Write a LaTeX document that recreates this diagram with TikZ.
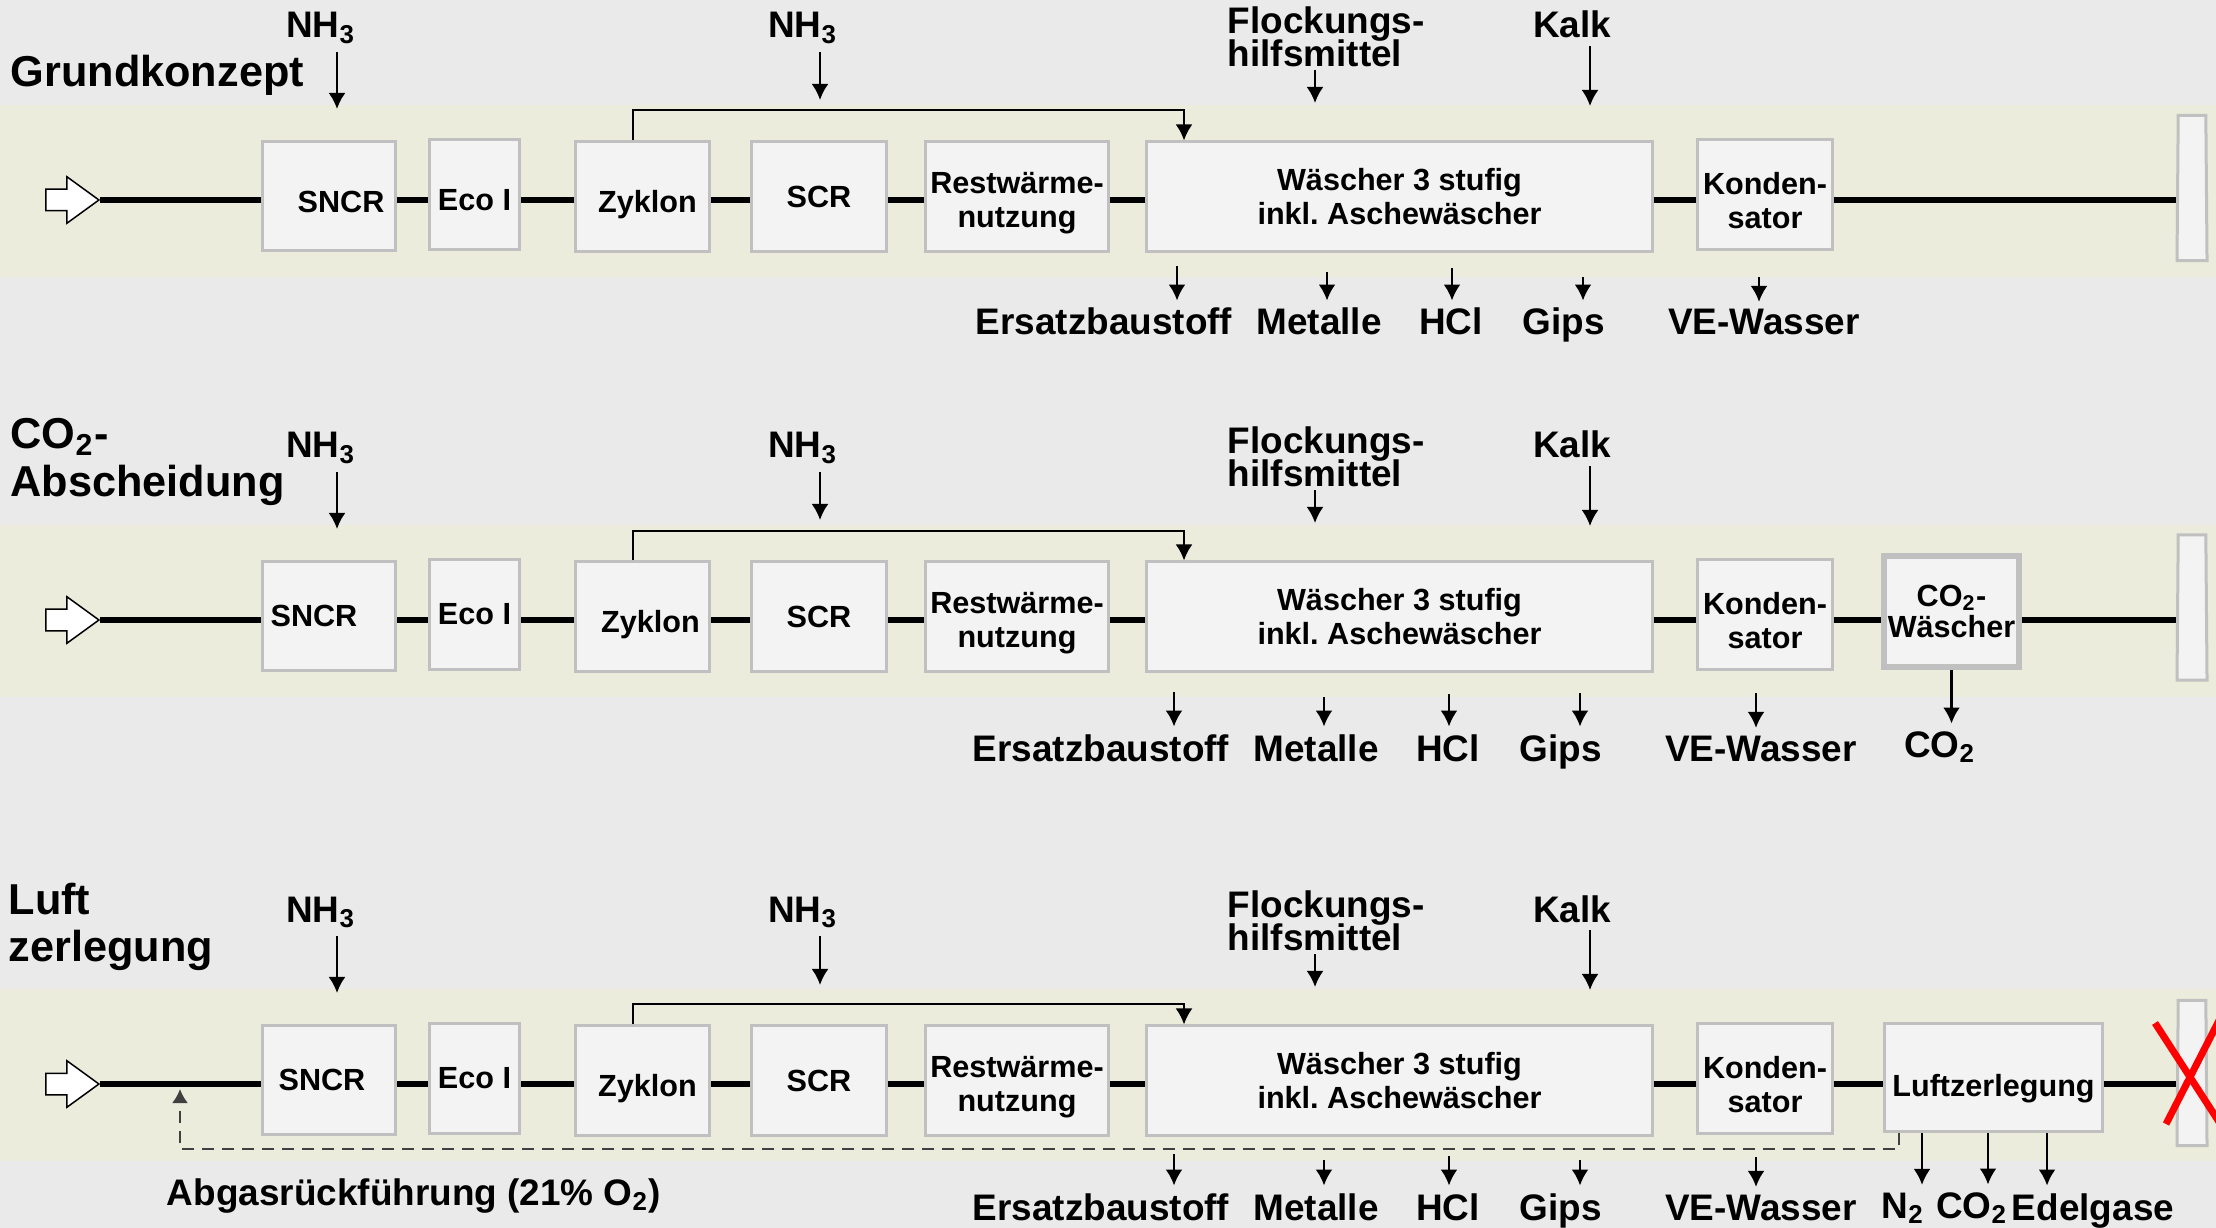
\documentclass[tikz,border=0pt]{standalone}
\usepackage{fontspec}
\setmainfont{Liberation Sans}
\usetikzlibrary{shapes.geometric, shapes.arrows, arrows.meta}
\definecolor{pagegray}{RGB}{234,234,234}
\definecolor{bandbeige}{RGB}{236,236,220}
\definecolor{boxfill}{RGB}{243,243,243}
\definecolor{boxline}{RGB}{192,192,192}
\definecolor{recirc}{RGB}{64,64,64}
\tikzstyle{unit} = [rectangle, draw=boxline, line width=0.3mm, fill=boxfill, minimum height=10.9mm, inner sep=0pt, text centered, align=center, font=\fontsize{8.7}{9.6}\selectfont\bfseries]
\tikzstyle{lowtext} = [text height=3.2mm, text depth=0pt]
\tikzstyle{lowpair} = [text height=6.8mm]
\tikzstyle{stack} = [trapezium, trapezium left angle=87.5, trapezium right angle=87.5, trapezium stretches=true, minimum width=3.0mm, minimum height=14.5mm, draw=boxline, line width=0.3mm, fill=boxfill, inner sep=0.2mm]
\tikzstyle{inlet} = [single arrow, draw, fill=white, line width=0.15mm, minimum height=5.3mm, inner xsep=0pt, inner ysep=1mm, single arrow head extend=1.25mm, single arrow tip angle=72]
\tikzstyle{stream} = [font={\fontsize{10.5}{9.3}\selectfont\bfseries\lineskiplimit-1cm\relax}, inner sep=0.7mm]
\tikzstyle{variant} = [font=\fontsize{12.3}{13.4}\selectfont\bfseries, inner sep=0pt, align=left]
\tikzstyle{flow} = [line width=0.6mm]
\tikzstyle{arrow} = [-{Latex[length=1.6mm,width=1.7mm]}, line width=0.25mm]
\tikzstyle{recycle} = [-{Latex[length=1.4mm,width=1.6mm]}, draw=recirc, line width=0.22mm, dash pattern=on 1.2mm off 0.8mm]
\tikzstyle{nogo} = [draw=red, line width=0.7mm]

\begin{document}
\begin{tikzpicture}[x=0.01cm, y=-0.01cm]
    \useasboundingbox (0,0) rectangle (2216,1228);
    \clip (0,0) rectangle (2216,1228);
    \fill [pagegray] (0,0) rectangle (2216,1228);
    \fill [bandbeige] (0,105) rectangle (2216,277);
    \fill [bandbeige] (0,525) rectangle (2216,697);
    \fill [bandbeige] (0,989) rectangle (2216,1161);

    % Grundkonzept
    \node [variant, anchor=base west] at (10,87) (title1) {Grundkonzept};
    \node [inlet] at (65,200) (in1) {};
    \node [stack] at (2192,188) (st1) {};
    \draw [flow] (in1.east) -- (in1.east -| st1.west);
    \node [unit, lowtext, minimum width=13.3mm] at (329,196) (sncr1) {\hspace*{2.4mm}SNCR};
    \node [unit, lowtext, minimum width=9.0mm] at (474.5,194.5) (eco1) {Eco I};
    \node [unit, lowtext, minimum width=13.4mm] at (642.5,196.5) (zyk1) {\hspace*{1mm}Zyklon};
    \node [unit, minimum width=13.5mm] at (819,196.5) (scr1) {SCR};
    \node [unit, lowpair, minimum width=18.3mm] at (1017,196.5) (rest1) {Restwärme-\\nutzung};
    \node [unit, minimum width=50.6mm] at (1399.5,196.5) (wa1) {Wäscher 3 stufig\\inkl.\ Aschewäscher};
    \node [unit, lowpair, minimum width=13.5mm] at (1765,194.5) (kon1) {Konden-\\sator};
    \node [stream, anchor=base] at (321,38) (nha1) {NH\textsubscript{3}};
    \node [stream, anchor=base] at (803,38) (nhb1) {NH\textsubscript{3}};
    \node [stream, align=left, anchor=north west] at (1220,-1) (fl1) {Flockungs-\\hilfsmittel};
    \node [stream, anchor=base] at (1572,38) (kalk1) {Kalk};
    \coordinate (nha1t) at (337,109);
    \coordinate (nhb1t) at (820,100);
    \coordinate (fl1s) at (1315,70);
    \coordinate (fl1t) at (1315,103);
    \coordinate (kalk1t) at (1590,106);
    \draw [arrow] (nha1.south -| nha1t) -- (nha1t);
    \draw [arrow] (nhb1.south -| nhb1t) -- (nhb1t);
    \draw [arrow] (fl1s) -- (fl1t);
    \draw [arrow] (kalk1.south -| kalk1t) -- (kalk1t);
    \coordinate (byp1) at (633,110);
    \coordinate (byq1) at (1184,110);
    \draw [arrow] (byp1 |- zyk1.north) -- (byp1) -- (byq1) -- (byq1 |- wa1.north);
    \node [stream, anchor=base] at (1104,335) (ers1) {Ersatzbaustoff};
    \node [stream, anchor=base] at (1319,335) (met1) {Metalle};
    \node [stream, anchor=base] at (1451,335) (hcl1) {HCl};
    \node [stream, anchor=base] at (1564,335) (gips1) {Gips};
    \node [stream, anchor=base] at (1764,335) (ve1) {VE-Wasser};
    \coordinate (ers1s) at (1177,266);
    \coordinate (met1s) at (1327,272);
    \coordinate (hcl1s) at (1452,268);
    \coordinate (gips1s) at (1583,277);
    \coordinate (ve1s) at (1759,277);
    \draw [arrow] (ers1s) -- (ers1s |- ers1.north);
    \draw [arrow] (met1s) -- (met1s |- met1.north);
    \draw [arrow] (hcl1s) -- (hcl1s |- hcl1.north);
    \draw [arrow] (gips1s) -- (gips1s |- gips1.north);
    \draw [arrow] (ve1s) -- (ve1s |- ve1.north);

    % CO2-Abscheidung
    \node [variant, anchor=north west] at (10,418) (title2) {CO\textsubscript{2}-\\Abscheidung};
    \node [inlet] at (65,620) (in2) {};
    \node [stack] at (2192,607.5) (st2) {};
    \draw [flow] (in2.east) -- (in2.east -| st2.west);
    \node [unit, minimum width=13.3mm] at (329,616) (sncr2) {SNCR\hspace*{3mm}};
    \node [unit, minimum width=9.0mm] at (474.5,614.5) (eco2) {Eco I};
    \node [unit, lowtext, minimum width=13.4mm] at (642.5,616.5) (zyk2) {\hspace*{1.6mm}Zyklon};
    \node [unit, minimum width=13.5mm] at (819,616.5) (scr2) {SCR};
    \node [unit, lowpair, minimum width=18.3mm] at (1017,616.5) (rest2) {Restwärme-\\nutzung};
    \node [unit, minimum width=50.6mm] at (1399.5,616.5) (wa2) {Wäscher 3 stufig\\inkl.\ Aschewäscher};
    \node [unit, lowpair, minimum width=13.5mm] at (1765,614.5) (kon2) {Konden-\\sator};
    \node [unit, line width=0.6mm, minimum width=13.5mm, minimum height=11.1mm, font=\fontsize{8.7}{8.9}\selectfont\bfseries] at (1951.5,611.5) (co2w2) {CO\textsubscript{2}-\\Wäscher};
    \node [stream, anchor=base] at (321,458) (nha2) {NH\textsubscript{3}};
    \node [stream, anchor=base] at (803,458) (nhb2) {NH\textsubscript{3}};
    \node [stream, align=left, anchor=north west] at (1220,419) (fl2) {Flockungs-\\hilfsmittel};
    \node [stream, anchor=base] at (1572,458) (kalk2) {Kalk};
    \coordinate (nha2t) at (337,529);
    \coordinate (nhb2t) at (820,520);
    \coordinate (fl2s) at (1315,490);
    \coordinate (fl2t) at (1315,523);
    \coordinate (kalk2t) at (1590,526);
    \draw [arrow] (nha2.south -| nha2t) -- (nha2t);
    \draw [arrow] (nhb2.south -| nhb2t) -- (nhb2t);
    \draw [arrow] (fl2s) -- (fl2t);
    \draw [arrow] (kalk2.south -| kalk2t) -- (kalk2t);
    \coordinate (byp2) at (633,531);
    \coordinate (byq2) at (1184,531);
    \draw [arrow] (byp2 |- zyk2.north) -- (byp2) -- (byq2) -- (byq2 |- wa2.north);
    \node [stream, anchor=base] at (1101,761) (ers2) {Ersatzbaustoff};
    \node [stream, anchor=base] at (1316,761) (met2) {Metalle};
    \node [stream, anchor=base] at (1448,761) (hcl2) {HCl};
    \node [stream, anchor=base] at (1561,761) (gips2) {Gips};
    \node [stream, anchor=base] at (1761,761) (ve2) {VE-Wasser};
    \node [stream, anchor=base] at (1940,757) (co2o2) {CO\textsubscript{2}};
    \coordinate (ers2s) at (1174,692);
    \coordinate (met2s) at (1324,697);
    \coordinate (hcl2s) at (1449,694);
    \coordinate (gips2s) at (1580,693);
    \coordinate (ve2s) at (1756,693);
    \draw [arrow] (ers2s) -- (ers2s |- ers2.north);
    \draw [arrow] (met2s) -- (met2s |- met2.north);
    \draw [arrow] (hcl2s) -- (hcl2s |- hcl2.north);
    \draw [arrow] (gips2s) -- (gips2s |- gips2.north);
    \draw [arrow] (ve2s) -- (ve2s |- ve2.north);
    \draw [arrow] (co2w2.south) -- (co2w2.south |- co2o2.north);

    % Luftzerlegung
    \node [variant, anchor=north west] at (8,882) (title3) {Luft\\zerlegung};
    \node [inlet] at (65,1084) (in3) {};
    \node [stack] at (2192,1073) (st3) {};
    \draw [flow] (in3.east) -- (in3.east -| st3.west);
    \node [unit, minimum width=13.3mm] at (329,1080) (sncr3) {SNCR\hspace*{1.4mm}};
    \node [unit, minimum width=9.0mm] at (474.5,1078.5) (eco3) {Eco I};
    \node [unit, lowtext, minimum width=13.4mm] at (642.5,1080.5) (zyk3) {\hspace*{1mm}Zyklon};
    \node [unit, minimum width=13.5mm] at (819,1080.5) (scr3) {SCR};
    \node [unit, lowpair, minimum width=18.3mm] at (1017,1080.5) (rest3) {Restwärme-\\nutzung};
    \node [unit, minimum width=50.6mm] at (1399.5,1080.5) (wa3) {Wäscher 3 stufig\\inkl.\ Aschewäscher};
    \node [unit, lowpair, minimum width=13.5mm] at (1765,1078.5) (kon3) {Konden-\\sator};
    \node [unit, text height=3.8mm, text depth=0pt, minimum width=21.8mm, minimum height=10.8mm] at (1993.5,1077.5) (luft3) {Luftzerlegung};
    \node [stream, anchor=base] at (321,922) (nha3) {NH\textsubscript{3}};
    \node [stream, anchor=base] at (803,922) (nhb3) {NH\textsubscript{3}};
    \node [stream, align=left, anchor=north west] at (1220,883) (fl3) {Flockungs-\\hilfsmittel};
    \node [stream, anchor=base] at (1572,922) (kalk3) {Kalk};
    \coordinate (nha3t) at (337,993);
    \coordinate (nhb3t) at (820,985);
    \coordinate (fl3s) at (1315,954);
    \coordinate (fl3t) at (1315,987);
    \coordinate (kalk3t) at (1590,990);
    \draw [arrow] (nha3.south -| nha3t) -- (nha3t);
    \draw [arrow] (nhb3.south -| nhb3t) -- (nhb3t);
    \draw [arrow] (fl3s) -- (fl3t);
    \draw [arrow] (kalk3.south -| kalk3t) -- (kalk3t);
    \coordinate (byp3) at (633,1004);
    \coordinate (byq3) at (1184,1004);
    \draw [arrow] (byp3 |- zyk3.north) -- (byp3) -- (byq3) -- (byq3 |- wa3.north);
    \coordinate (rc1) at (1899,1133);
    \coordinate (rc2) at (180,1089);
    \draw [recycle] (rc1) -- ++(0,16) -| (rc2);
    \node [stream, anchor=base] at (414,1205) (abgas) {Abgasrückführung (21\% O\textsubscript{2})};
    \node [stream, anchor=base] at (1101,1220) (ers3) {Ersatzbaustoff};
    \node [stream, anchor=base] at (1316,1220) (met3) {Metalle};
    \node [stream, anchor=base] at (1448,1220) (hcl3) {HCl};
    \node [stream, anchor=base] at (1561,1220) (gips3) {Gips};
    \node [stream, anchor=base] at (1761,1220) (ve3) {VE-Wasser};
    \node [stream, anchor=base] at (1903,1218) (n2o3) {N\textsubscript{2}};
    \node [stream, anchor=base] at (1972,1218) (co2o3) {CO\textsubscript{2}};
    \node [stream, anchor=base] at (2093,1220) (edel3) {Edelgase};
    \coordinate (ers3s) at (1174,1154);
    \coordinate (met3s) at (1324,1160);
    \coordinate (hcl3s) at (1449,1156);
    \coordinate (gips3s) at (1580,1160);
    \coordinate (ve3s) at (1756,1157);
    \coordinate (g1s) at (1922,1133);
    \coordinate (g2s) at (1988,1133);
    \coordinate (g3s) at (2047,1133);
    \draw [arrow] (ers3s) -- (ers3s |- ers3.north);
    \draw [arrow] (met3s) -- (met3s |- met3.north);
    \draw [arrow] (hcl3s) -- (hcl3s |- hcl3.north);
    \draw [arrow] (gips3s) -- (gips3s |- gips3.north);
    \draw [arrow] (ve3s) -- (ve3s |- ve3.north);
    \draw [arrow] (g1s) -- (g1s |- n2o3.north);
    \draw [arrow] (g2s) -- (g2s |- co2o3.north);
    \draw [arrow] (g3s) -- (g3s |- edel3.north);
    \draw [nogo] (2155,1023) -- (2232,1142);
    \draw [nogo] (2166,1124) -- (2232,995);
\end{tikzpicture}
\end{document}
